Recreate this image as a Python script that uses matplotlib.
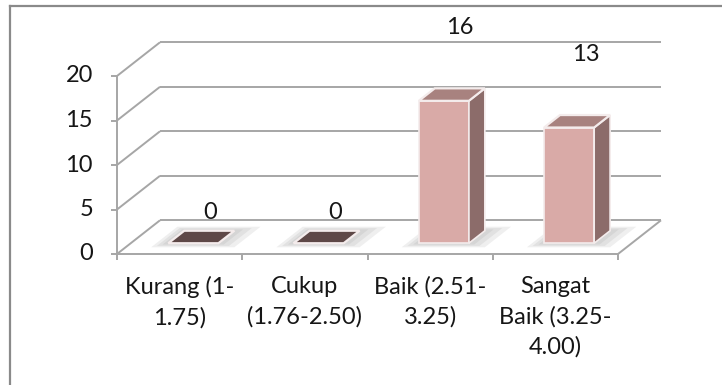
import numpy as np
import matplotlib.pyplot as plt
from matplotlib.patches import Polygon
from matplotlib.lines import Line2D

categories = ["Kurang (1-\n1.75)", "Cukup\n(1.76-2.50)", "Baik (2.51-\n3.25)", "Sangat\nBaik (3.25-\n4.00)"]
values = [0, 0, 16, 13]
yticks = [0, 5, 10, 15, 20]

W, H = 722, 385
fig = plt.figure(figsize=(W / 100, H / 100), dpi=100)
ax = fig.add_axes([0, 0, 1, 1])
ax.axis("off")

# pixel geometry of the plot box (front plane)
cat_px = 125.25      # width of one category
val_px = 8.9         # pixels per unit of value
x_org, y_org = 117, 254
ax.set_xlim(-0.5 - x_org / cat_px, -0.5 + (W - x_org) / cat_px)
ax.set_ylim(-(H - y_org) / val_px, y_org / val_px)

# oblique depth offset, in data units
DX = 43 / cat_px
DY = 33.7 / val_px

def proj(x, v, d):
    return (x + d * DX, v + d * DY)

grid_col = "#a6a6a6"
txt_col = "#161616"
fs = 17
lw = 1.4
n = len(categories)
xl, xr = -0.5, n - 0.5

def seg(p, q, **kw):
    ax.plot([p[0], q[0]], [p[1], q[1]], color=grid_col, lw=lw,
            solid_capstyle="butt", **kw)

# back wall and side wall gridlines
for v in yticks:
    seg(proj(xl, v, 1), proj(xr, v, 1))
    seg(proj(xl, v, 0), proj(xl, v, 1))
    seg(proj(xl - 6 / cat_px, v, 0), proj(xl, v, 0))
    ax.text(xl - 24 / cat_px, v, str(v), ha="right", va="center",
            fontsize=fs, family="Lato", color=txt_col)

# floor edges and axis line
seg(proj(xl, 0, 0), proj(xr, 0, 0))
seg(proj(xr, 0, 0), proj(xr, 0, 1))
seg(proj(xl, 0, 0), proj(xl, yticks[-1], 0))
for k in range(n + 1):
    seg(proj(xl + k, 0, 0), proj(xl + k, -6 / val_px, 0))

# category labels
for i, lab in enumerate(categories):
    ax.text(i, -2.5, lab, ha="center", va="top", fontsize=fs,
            family="Lato", color=txt_col, linespacing=1.5)

front_col = "#d9aaa7"
side_col = "#8c6c6a"
top_col = "#a8827f"
zero_col = "#5e4847"
w = 0.2
d0, d1 = 0.32, 0.69

for i, v in enumerate(values):
    # soft shadow on the floor
    for grow in [0.12, 0.08, 0.04]:
        foot = [proj(i - w - grow * 0.8, 0, d0 - grow), proj(i + w + grow * 1.4, 0, d0 - grow),
                proj(i + w + grow * 1.4, 0, d1 + grow), proj(i - w - grow * 0.8, 0, d1 + grow)]
        ax.add_patch(Polygon(foot, closed=True, facecolor="#7f7f7f",
                             edgecolor="none", alpha=0.12, zorder=2))
    if v > 0:
        front = [proj(i - w, 0, d0), proj(i + w, 0, d0), proj(i + w, v, d0), proj(i - w, v, d0)]
        side = [proj(i + w, 0, d0), proj(i + w, 0, d1), proj(i + w, v, d1), proj(i + w, v, d0)]
        ax.add_patch(Polygon(front, closed=True, facecolor=front_col,
                             edgecolor="#f4ecec", lw=1.2, zorder=3))
        ax.add_patch(Polygon(side, closed=True, facecolor=side_col,
                             edgecolor="#f4ecec", lw=1.2, zorder=3))
    top = [proj(i - w, v, d0), proj(i + w, v, d0), proj(i + w, v, d1), proj(i - w, v, d1)]
    ax.add_patch(Polygon(top, closed=True, facecolor=top_col if v > 0 else zero_col,
                         edgecolor="#f4ecec", lw=1.6, zorder=4))
    off = 6.8 if v > 0 else 2.0
    tx, ty = proj(i, v + off, 0.7)
    ax.text(tx, ty, str(v), ha="center", va="center", fontsize=fs,
            family="Lato", color=txt_col)

# chart frame
fig.add_artist(Line2D([10 / W, 10 / W], [0, 1 - 6 / H], color="#8a8a8a", lw=1.6))
fig.add_artist(Line2D([10 / W, 1], [1 - 6 / H, 1 - 6 / H], color="#8a8a8a", lw=1.6))

fig.savefig("out.png", dpi=100, facecolor="white")
